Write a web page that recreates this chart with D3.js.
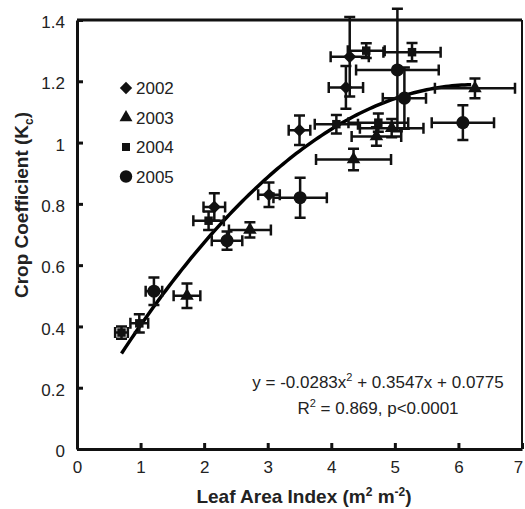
<!DOCTYPE html>
<html>
<head>
<meta charset="utf-8">
<script src="https://cdn.jsdelivr.net/npm/d3@7"></script>
<style>
    body { margin: 0; background: #fff; }
    text { font-family: "Liberation Sans", Arial, sans-serif; fill: #222; }
</style>
</head>
<body>
<svg class="chart" width="525" height="509"></svg>
<script>
// [LAI, Kc, LAI error, Kc error]
var y2002 = [[2.16, 0.79, 0.17, 0.045], [3.02, 0.83, 0.17, 0.04], [3.50, 1.04, 0.17, 0.048],
    [4.23, 1.18, 0.27, 0.07], [4.29, 1.28, 0.30, 0.13]];
var y2003 = [[1.73, 0.50, 0.21, 0.04], [2.72, 0.715, 0.33, 0.025], [4.35, 0.945, 0.59, 0.035],
    [4.71, 1.02, 0.39, 0.03], [4.95, 1.047, 0.50, 0.03], [6.26, 1.177, 0.63, 0.032]];
var y2004 = [[0.70, 0.38, 0.10, 0.02], [0.98, 0.41, 0.14, 0.03], [2.07, 0.745, 0.24, 0.03],
    [4.08, 1.06, 0.34, 0.03], [4.74, 1.065, 0.47, 0.03], [4.55, 1.30, 0.29, 0.024], [5.27, 1.295, 0.45, 0.03]];
var y2005 = [[1.21, 0.515, 0.13, 0.045], [2.36, 0.68, 0.24, 0.03], [3.51, 0.82, 0.42, 0.065],
    [5.04, 1.237, 0.65, 0.2], [5.15, 1.145, 0.34, 0.1], [6.07, 1.065, 0.49, 0.057]];
var seriesNames = ['2002', '2003', '2004', '2005'];
var xTicks = [0, 1, 2, 3, 4, 5, 6, 7];
var xTickLabels = ['0', '1', '2', '3', '4', '5', '6', '7'];
var yTicks = [0, 0.2, 0.4, 0.6, 0.8, 1, 1.2, 1.4];
var yTickLabels = ['0', '0.2', '0.4', '0.6', '0.8', '1', '1.2', '1.4'];
var fit = [-0.0283, 0.3547, 0.0775], fitRange = [0.7, 6.2];

(function () {
    'use strict';

    var svg = d3.select('.chart'),
        x = d3.scaleLinear().domain([0, 7]).range([77, 522]),
        y = d3.scaleLinear().domain([0, 1.4]).range([449, 20]),
        series = [y2002, y2003, y2004, y2005],
        shapes = [
            {type: d3.symbolSquare, size: 85, rotate: 45},
            {type: d3.symbolTriangle, size: 80, rotate: 0},
            {type: d3.symbolSquare, size: 72, rotate: 0},
            {type: d3.symbolCircle, size: 135, rotate: 0}
        ],
        cap = 5.5, xAxis, yAxis, curve, g, legend;

    // frame (top + right)
    svg.append('line').attr('x1', x(0)).attr('x2', x(7)).attr('y1', y(1.4)).attr('y2', y(1.4))
        .attr('stroke', '#111').attr('stroke-width', 3);
    svg.append('line').attr('x1', x(7)).attr('x2', x(7)).attr('y1', y(1.4)).attr('y2', y(0))
        .attr('stroke', '#111').attr('stroke-width', 2);

    xAxis = svg.append('g')
        .attr('transform', 'translate(0,' + y(0) + ')')
        .call(d3.axisBottom(x).tickValues(xTicks).tickSizeInner(-6).tickSizeOuter(0).tickPadding(11)
            .tickFormat(function (d, i) { return xTickLabels[i]; }));
    yAxis = svg.append('g')
        .attr('transform', 'translate(' + x(0) + ',0)')
        .call(d3.axisLeft(y).tickValues(yTicks).tickSizeInner(-6).tickSizeOuter(0).tickPadding(12)
            .tickFormat(function (d, i) { return yTickLabels[i]; }));

    [xAxis, yAxis].forEach(function (a) {
        a.select('.domain').attr('stroke', '#111').attr('stroke-width', 3);
        a.selectAll('.tick line').attr('stroke', '#111').attr('stroke-width', 3);
        a.selectAll('.tick text').attr('font-size', 17).attr('fill', '#222')
            .attr('font-family', '"Liberation Sans", Arial, sans-serif');
    });
    xAxis.selectAll('.tick text').attr('dy', '0.78em')
        .attr('dx', function (d) { return d === 7 ? -4 : 0; });
    yAxis.selectAll('.tick text').attr('dy', '0.45em');

    // axis titles
    svg.append('text')
        .attr('x', 304).attr('y', 503)
        .attr('text-anchor', 'middle')
        .attr('font-size', 19).attr('font-weight', 'bold')
        .html('Leaf Area Index (m<tspan dy="-7" font-size="12">2</tspan><tspan dy="7"> m</tspan>' +
            '<tspan dy="-7" font-size="12">-2</tspan><tspan dy="7">)</tspan>');

    svg.append('text')
        .attr('transform', 'translate(28,205) rotate(-90)')
        .attr('text-anchor', 'middle')
        .attr('font-size', 19).attr('font-weight', 'bold')
        .html('Crop Coefficient (K<tspan dy="5" font-size="12">c</tspan><tspan dy="-5">)</tspan>');

    // regression curve
    curve = d3.range(fitRange[0], fitRange[1] + 0.001, 0.05).map(function (v) {
        return [v, fit[0] * v * v + fit[1] * v + fit[2]];
    });
    svg.append('path')
        .attr('d', d3.line().x(function (d) { return x(d[0]); }).y(function (d) { return y(d[1]); })(curve))
        .attr('fill', 'none').attr('stroke', '#000').attr('stroke-width', 3.5);

    // error bars and markers
    series.forEach(function (data, s) {
        g = svg.append('g').attr('stroke', '#111').attr('stroke-width', 2.5);
        data.forEach(function (d) {
            var cx = x(d[0]), cy = y(d[1]),
                x0 = x(d[0] - d[2]), x1 = x(d[0] + d[2]),
                y0 = y(d[1] - d[3]), y1 = y(d[1] + d[3]);
            g.append('path').attr('fill', 'none').attr('d',
                'M' + x0 + ',' + cy + 'H' + x1 +
                'M' + x0 + ',' + (cy - cap) + 'V' + (cy + cap) +
                'M' + x1 + ',' + (cy - cap) + 'V' + (cy + cap) +
                'M' + cx + ',' + y0 + 'V' + y1 +
                'M' + (cx - cap) + ',' + y0 + 'H' + (cx + cap) +
                'M' + (cx - cap) + ',' + y1 + 'H' + (cx + cap));
        });
        svg.append('g').selectAll('path').data(data).enter().append('path')
            .attr('d', d3.symbol().type(shapes[s].type).size(shapes[s].size))
            .attr('transform', function (d) {
                return 'translate(' + x(d[0]) + ',' + y(d[1]) + ') rotate(' + shapes[s].rotate + ')';
            })
            .attr('fill', '#111');
    });

    // legend
    legend = svg.append('g').selectAll('g').data(seriesNames).enter().append('g')
        .attr('transform', function (d, i) { return 'translate(126,' + (88 + i * 29.5) + ')'; });
    legend.append('path')
        .attr('d', function (d, i) { return d3.symbol().type(shapes[i].type).size(shapes[i].size * 0.9)(); })
        .attr('transform', function (d, i) { return 'rotate(' + shapes[i].rotate + ')'; })
        .attr('fill', '#111');
    legend.append('text')
        .attr('x', 10).attr('dy', '0.36em')
        .attr('font-size', 17)
        .text(function (d) { return d; });

    // equation
    svg.append('text')
        .attr('x', 378).attr('y', 388)
        .attr('text-anchor', 'middle').attr('font-size', 17)
        .html('y = -0.0283x<tspan dy="-7" font-size="11">2</tspan><tspan dy="7"> + 0.3547x + 0.0775</tspan>');
    svg.append('text')
        .attr('x', 378).attr('y', 414)
        .attr('text-anchor', 'middle').attr('font-size', 17)
        .html('R<tspan dy="-7" font-size="11">2</tspan><tspan dy="7"> = 0.869, p&lt;0.0001</tspan>');
}());
</script>
</body>
</html>
